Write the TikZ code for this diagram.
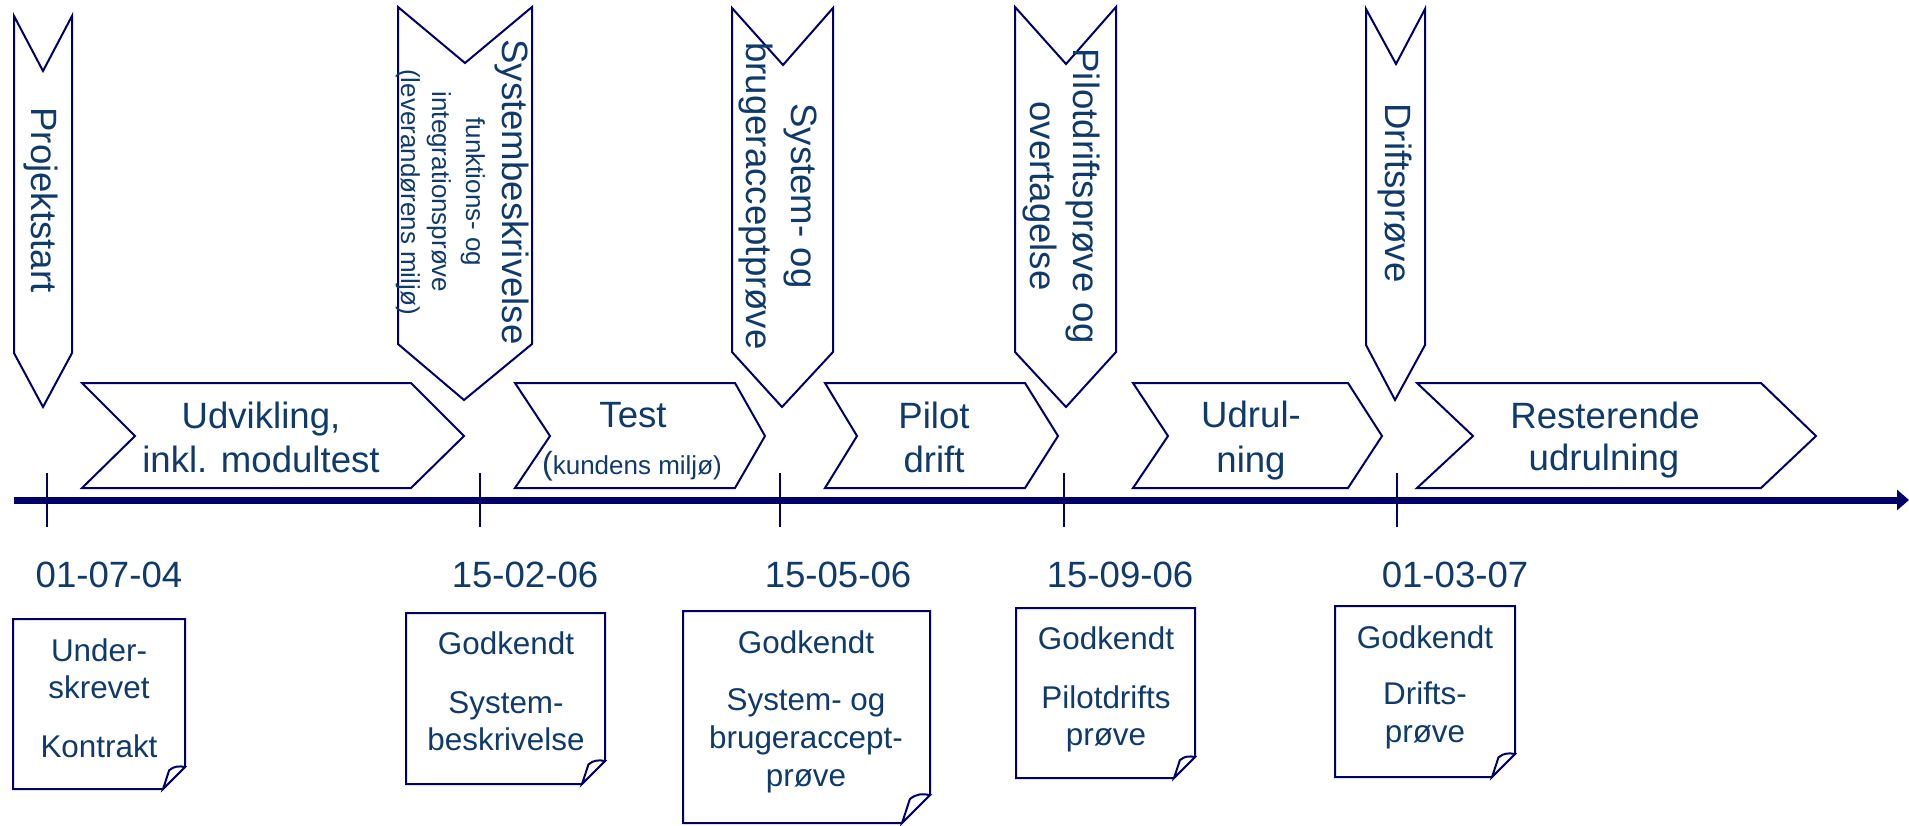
\documentclass[tikz,border=0pt]{standalone}
\usepackage{fontspec}
\setmainfont[Ligatures=NoCommon]{Liberation Sans}
\usetikzlibrary{arrows.meta}
\definecolor{lineblue}{HTML}{000066}
\definecolor{txtblue}{HTML}{0F3A6A}
\tikzset{
  outl/.style={draw=lineblue, line width=1pt, fill=white, line join=miter},
  bigtxt/.style={text=txtblue, font=\fontsize{18.3}{22}\selectfont, inner sep=0pt, anchor=base},
  smalltxt/.style={text=txtblue, font=\fontsize{13}{15.6}\selectfont, inner sep=0pt, anchor=base},
  boxtxt/.style={text=txtblue, font=\fontsize{15.7}{19}\selectfont, inner sep=0pt, anchor=base},
  vert/.style={rotate=-90},
  tickline/.style={draw=lineblue, line width=1pt},
  axisline/.style={draw=lineblue, line width=3.5pt, -{Triangle[length=6pt,width=10pt]}},
}
\newcommand\notebox[5]{%
  \draw[outl] (#1,#2) -- (#3,#2) -- (#3,{#4-#5}) -- ({#3-#5},#4) -- (#1,#4) -- cycle;
  \draw[outl] ({#3-#5},#4) -- ({#3-0.72*#5},{#4-0.85*#5}) .. controls ({#3-0.5*#5},{#4-1.05*#5}) and ({#3-0.25*#5},{#4-1.05*#5}) .. (#3,{#4-#5}) -- cycle;
}
\begin{document}
\begin{tikzpicture}[x=0.5pt,y=-0.5pt]
\useasboundingbox (0,0) rectangle (1909,825);
\fill[white] (0,0) rectangle (1909,825);

% vertical milestone chevrons
\draw[outl] (14,16) -- (43,71) -- (72,16) -- (72,353) -- (43,407) -- (14,353) -- cycle;
\draw[outl] (398,7) -- (465,63) -- (532,7) -- (532,344) -- (464,400) -- (398,344) -- cycle;
\draw[outl] (732,8) -- (783,65) -- (833,8) -- (833,352) -- (782,407) -- (732,352) -- cycle;
\draw[outl] (1015,7) -- (1066,64) -- (1116,7) -- (1116,352) -- (1066,407) -- (1015,352) -- cycle;
\draw[outl] (1366,9) -- (1396,64) -- (1425,9) -- (1425,345) -- (1395,400) -- (1366,345) -- cycle;

% horizontal phase chevrons
\draw[outl] (82,383) -- (411,383) -- (464,436) -- (411,488) -- (82,488) -- (135,436) -- cycle;
\draw[outl] (515,383) -- (735,383) -- (765,436) -- (735,488) -- (515,488) -- (550,436) -- cycle;
\draw[outl] (825,383) -- (1025,383) -- (1058,436) -- (1025,488) -- (825,488) -- (857,436) -- cycle;
\draw[outl] (1133,383) -- (1348,383) -- (1382,436) -- (1348,488) -- (1133,488) -- (1168,436) -- cycle;
\draw[outl] (1417,383) -- (1761,383) -- (1816,436) -- (1761,488) -- (1417,488) -- (1473,436) -- cycle;

% vertical texts
\node[bigtxt,vert] (ps) at (32,200) {Projektstart};
\node[bigtxt,vert] (sb1) at (502,192) {Systembeskrivelse};
\node[smalltxt,vert] (sb2) at (466,192) {funktions- og};
\node[smalltxt,vert] (sb3) at (432,192) {integrationsprøve};
\node[smalltxt,vert] (sb4) at (401,192) {(leverandørens miljø)};
\node[bigtxt,vert] (sa1) at (791,196) {System- og};
\node[bigtxt,vert] (sa2) at (746,196) {brugeracceptprøve};
\node[bigtxt,vert] (pd1) at (1073,196) {Pilotdriftsprøve og};
\node[bigtxt,vert] (pd2) at (1030,196) {overtagelse};
\node[bigtxt,vert] (dp) at (1385,193) {Driftsprøve};

% phase texts
\node[bigtxt] (ud1) at (261,428) {Udvikling,};
\node[bigtxt] (ud2) at (261,472) {inkl. modultest};
\node[bigtxt] (te1) at (633,427) {Test};
\node[smalltxt] (te2) at (632,474) {{\fontsize{16}{16}\selectfont(}kundens miljø)};
\node[bigtxt] (pi1) at (934,428) {Pilot};
\node[bigtxt] (pi2) at (934,472) {drift};
\node[bigtxt] (ur1) at (1251,427) {Udrul-};
\node[bigtxt] (ur2) at (1251,472) {ning};
\node[bigtxt] (re1) at (1605,428) {Resterende};
\node[bigtxt] (re2) at (1604,470) {udrulning};

% axis and ticks
\coordinate (axs) at (14,500);
\coordinate (axe) at (1909,500);
\draw[axisline] (axs) -- (axe);
\foreach \tx/\nm in {47/t1,480/t2,780/t3,1064/t4,1397/t5}{
  \coordinate (\nm a) at (\tx,473);
  \coordinate (\nm b) at (\tx,527);
  \draw[tickline] (\nm a) -- (\nm b);
}

% dates
\node[bigtxt] (d1) at (109,587) {01-07-04};
\node[bigtxt] (d2) at (525,587) {15-02-06};
\node[bigtxt] (d3) at (838,587) {15-05-06};
\node[bigtxt] (d4) at (1120,587) {15-09-06};
\node[bigtxt] (d5) at (1455,587) {01-03-07};

% note boxes
\notebox{13}{619}{185}{789}{22}
\notebox{406}{613}{605}{784}{23}
\notebox{683}{611}{930}{823}{28}
\notebox{1016}{608}{1195}{778}{21}
\notebox{1335}{606}{1515}{777}{23}

\node[boxtxt] (b1a) at (99,661) {Under-};
\node[boxtxt] (b1b) at (99,698) {skrevet};
\node[boxtxt] (b1c) at (99,757) {Kontrakt};
\node[boxtxt] (b2a) at (506,654) {Godkendt};
\node[boxtxt] (b2b) at (506,713) {System-};
\node[boxtxt] (b2c) at (506,750) {beskrivelse};
\node[boxtxt] (b3a) at (806,653) {Godkendt};
\node[boxtxt] (b3b) at (806,710) {System- og};
\node[boxtxt] (b3c) at (806,748) {brugeraccept-};
\node[boxtxt] (b3d) at (806,786) {prøve};
\node[boxtxt] (b4a) at (1106,649) {Godkendt};
\node[boxtxt] (b4b) at (1106,708) {Pilotdrifts};
\node[boxtxt] (b4c) at (1106,745) {prøve};
\node[boxtxt] (b5a) at (1425,648) {Godkendt};
\node[boxtxt] (b5b) at (1425,704) {Drifts-};
\node[boxtxt] (b5c) at (1425,742) {prøve};
\end{tikzpicture}
\end{document}
